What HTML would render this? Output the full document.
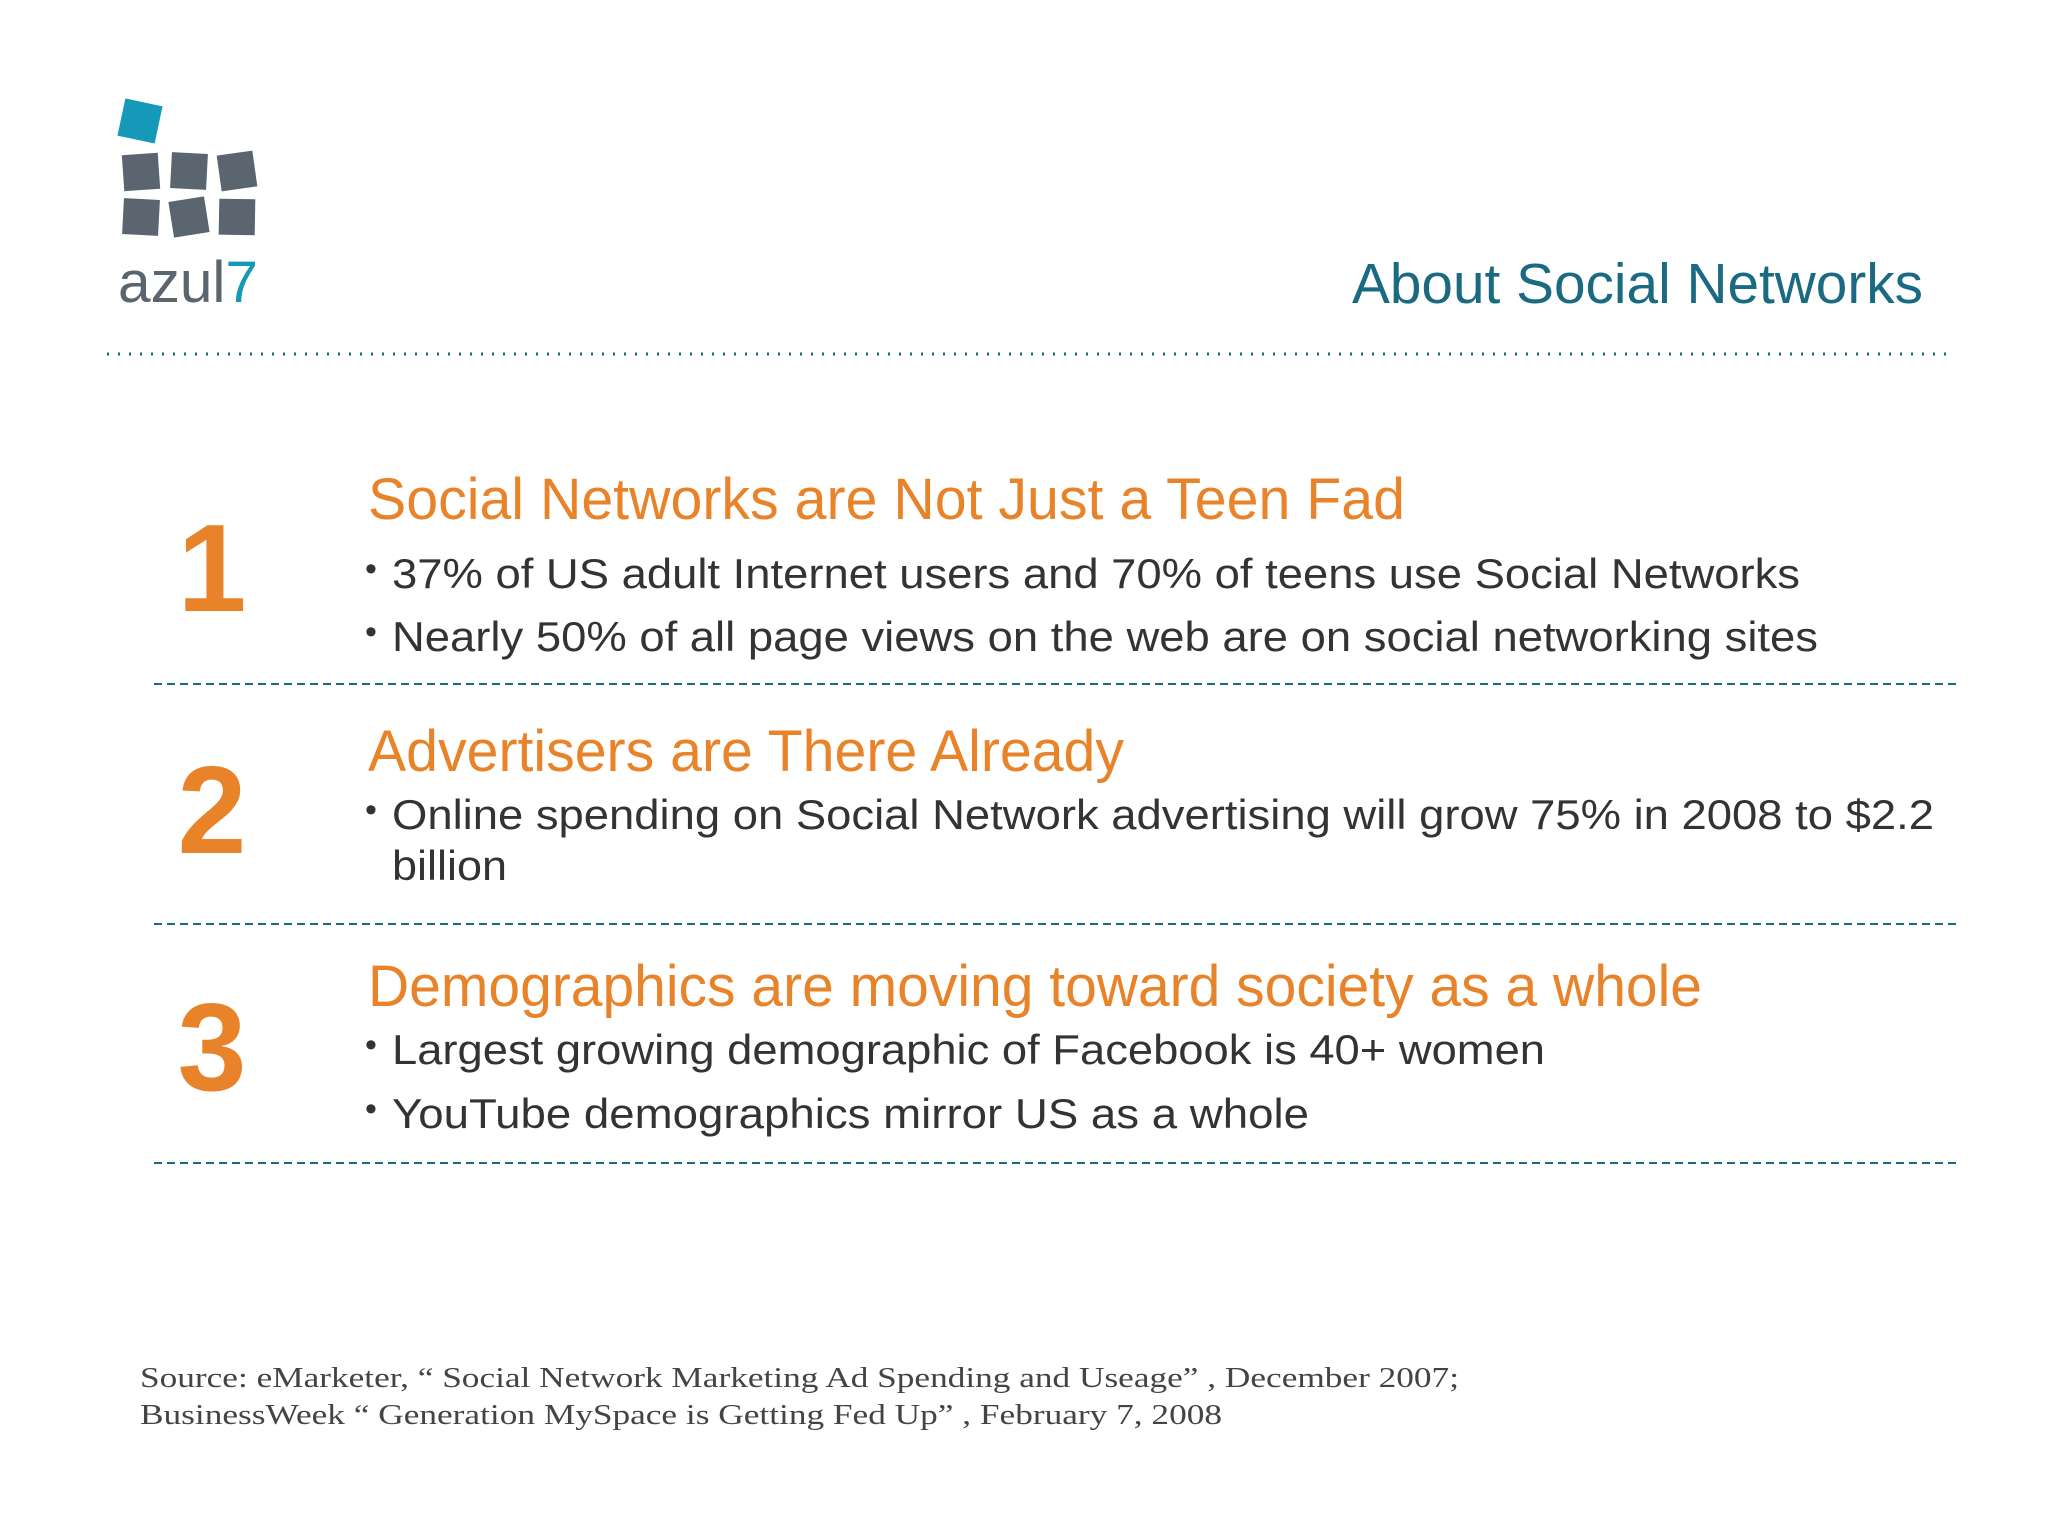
<!DOCTYPE html>
<html><head><meta charset="utf-8"><style>
html,body{margin:0;padding:0;background:#fff;}
svg{display:block;}
text{font-family:"Liberation Sans",sans-serif;}
</style></head><body>
<svg width="2048" height="1536" viewBox="0 0 2048 1536">
<rect width="2048" height="1536" fill="#ffffff"/>
<g>
<rect x="121" y="102" width="38" height="38" fill="#1499b8" transform="rotate(12 140 121)"/>
<rect x="123" y="154" width="36" height="36" fill="#5a6570" transform="rotate(-4 141 172)"/>
<rect x="171" y="153" width="36" height="36" fill="#5a6570" transform="rotate(3 189 171)"/>
<rect x="219" y="153" width="36" height="36" fill="#5a6570" transform="rotate(-8 237 171)"/>
<rect x="123" y="199" width="36" height="36" fill="#5a6570" transform="rotate(3 141 217)"/>
<rect x="171" y="199" width="36" height="36" fill="#5a6570" transform="rotate(-9 189 217)"/>
<rect x="219" y="199" width="36" height="36" fill="#5a6570" transform="rotate(1 237 217)"/>
<text x="118" y="302" font-size="58" fill="#5a6570" textLength="140" lengthAdjust="spacingAndGlyphs">azul<tspan fill="#1499b8">7</tspan></text>
</g>
<text x="1923" y="303" text-anchor="end" font-size="57" fill="#1a6a82" textLength="571" lengthAdjust="spacingAndGlyphs">About Social Networks</text>
<line x1="107" y1="354" x2="1949" y2="354" stroke="#1a6a82" stroke-width="3" stroke-dasharray="2 9"/>

<g fill="#333">
<text x="212" y="611" text-anchor="middle" font-size="124" font-weight="bold" fill="#e8832a">1</text>
<text x="368" y="519" font-size="58" fill="#e8832a" textLength="1037" lengthAdjust="spacingAndGlyphs">Social Networks are Not Just a Teen Fad</text>
<text x="365" y="580" font-size="34">•</text>
<text x="392" y="588" font-size="42" textLength="1408" lengthAdjust="spacingAndGlyphs">37% of US adult Internet users and 70% of teens use Social Networks</text>
<text x="365" y="643" font-size="34">•</text>
<text x="392" y="651" font-size="42" textLength="1426" lengthAdjust="spacingAndGlyphs">Nearly 50% of all page views on the web are on social networking sites</text>
</g>
<line x1="154" y1="684" x2="1956" y2="684" stroke="#1a6a82" stroke-width="2" stroke-dasharray="8 5"/>

<g fill="#333">
<text x="212" y="853" text-anchor="middle" font-size="124" font-weight="bold" fill="#e8832a">2</text>
<text x="368" y="771" font-size="58" fill="#e8832a" textLength="756" lengthAdjust="spacingAndGlyphs">Advertisers are There Already</text>
<text x="365" y="821" font-size="34">•</text>
<text x="392" y="829" font-size="42" textLength="1542" lengthAdjust="spacingAndGlyphs">Online spending on Social Network advertising will grow 75% in 2008 to $2.2</text>
<text x="392" y="880" font-size="42" textLength="115" lengthAdjust="spacingAndGlyphs">billion</text>
</g>
<line x1="154" y1="924" x2="1956" y2="924" stroke="#1a6a82" stroke-width="2" stroke-dasharray="8 5"/>

<g fill="#333">
<text x="212" y="1090" text-anchor="middle" font-size="124" font-weight="bold" fill="#e8832a">3</text>
<text x="368" y="1006" font-size="58" fill="#e8832a" textLength="1334" lengthAdjust="spacingAndGlyphs">Demographics are moving toward society as a whole</text>
<text x="365" y="1056" font-size="34">•</text>
<text x="392" y="1064" font-size="42" textLength="1153" lengthAdjust="spacingAndGlyphs">Largest growing demographic of Facebook is 40+ women</text>
<text x="365" y="1120" font-size="34">•</text>
<text x="392" y="1128" font-size="42" textLength="917" lengthAdjust="spacingAndGlyphs">YouTube demographics mirror US as a whole</text>
</g>
<line x1="154" y1="1163" x2="1956" y2="1163" stroke="#1a6a82" stroke-width="2" stroke-dasharray="8 5"/>

<g fill="#444">
<text x="140" y="1387" font-size="29" style="font-family:'Liberation Serif',serif" textLength="1319" lengthAdjust="spacingAndGlyphs">Source: eMarketer, “ Social Network Marketing Ad Spending and Useage” , December 2007;</text>
<text x="140" y="1424" font-size="29" style="font-family:'Liberation Serif',serif" textLength="1082" lengthAdjust="spacingAndGlyphs">BusinessWeek “ Generation MySpace is Getting Fed Up” , February 7, 2008</text>
</g>
</svg>
</body></html>
